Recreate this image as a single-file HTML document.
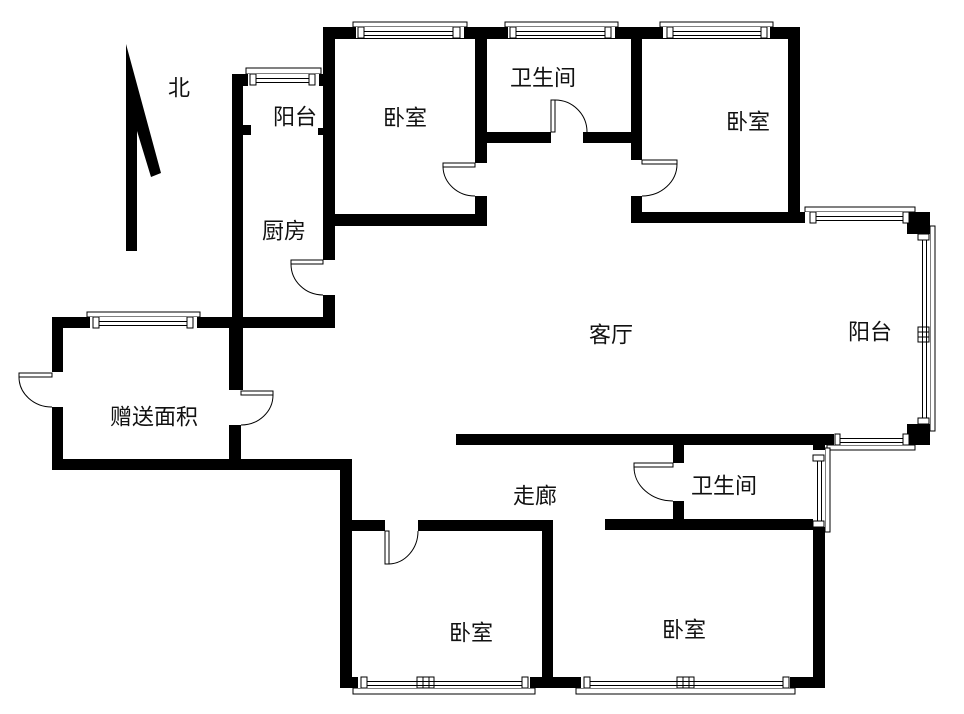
<!DOCTYPE html>
<html><head><meta charset="utf-8"><style>
html,body{margin:0;padding:0;background:#fff;}
svg{display:block;}
text{font-family:"Liberation Sans","Noto Sans CJK SC",sans-serif;font-size:22px;fill:#111;text-anchor:middle;dominant-baseline:central;}
.w{fill:#000;}
.g{fill:#fff;stroke:#000;stroke-width:1;}
.l{stroke:#000;stroke-width:1;fill:none;}
</style></head><body>
<svg width="964" height="714" viewBox="0 0 964 714" xmlns="http://www.w3.org/2000/svg">
<polygon points="126,44 161,173 151,177 137,131 137,251 126,251" fill="#000"/>
<text x="179" y="88">北</text>

<g class="w">
<rect x="323" y="27" width="477" height="12"/>
<rect x="323" y="27" width="12" height="233"/>
<rect x="323" y="295" width="12" height="33"/>
<rect x="475" y="27" width="12" height="136"/>
<rect x="475" y="196" width="12" height="30"/>
<rect x="323" y="214" width="164" height="12"/>
<rect x="487" y="132" width="64" height="11"/>
<rect x="583" y="132" width="48" height="11"/>
<rect x="631" y="27" width="11" height="133"/>
<rect x="631" y="196" width="11" height="27"/>
<rect x="788" y="27" width="12" height="196"/>
<rect x="631" y="212" width="174" height="11"/>
<rect x="907" y="212" width="23" height="22"/>
<rect x="918" y="212" width="12" height="233"/>
<rect x="907" y="424" width="23" height="21"/>
<rect x="232" y="74" width="91" height="12"/>
<rect x="232" y="74" width="11" height="316"/>
<rect x="243" y="125" width="8" height="10"/>
<rect x="318" y="128" width="6" height="7"/>
<rect x="52" y="317" width="283" height="11"/>
<rect x="52" y="317" width="11" height="55"/>
<rect x="52" y="407" width="11" height="63"/>
<rect x="229" y="317" width="12" height="73"/>
<rect x="229" y="425" width="12" height="45"/>
<rect x="52" y="459" width="300" height="11"/>
<rect x="340" y="459" width="12" height="229"/>
<rect x="340" y="520" width="45" height="11"/>
<rect x="418" y="520" width="135" height="11"/>
<rect x="542" y="520" width="11" height="168"/>
<rect x="340" y="677" width="485" height="11"/>
<rect x="456" y="434" width="474" height="11"/>
<rect x="673" y="445" width="11" height="18"/>
<rect x="673" y="501" width="11" height="29"/>
<rect x="605" y="519" width="220" height="11"/>
<rect x="813" y="434" width="12" height="254"/>
</g>

<g>
<rect x="353" y="22" width="114" height="5" class="g"/>
<rect x="356" y="27" width="108" height="12" fill="#fff"/>
<rect x="358" y="27" width="6" height="11" class="g"/><rect x="453" y="27" width="7" height="11" class="g"/>
<line x1="364" y1="31.5" x2="453" y2="31.5" class="l"/><line x1="364" y1="35.5" x2="453" y2="35.5" class="l"/><line x1="356" y1="38.5" x2="464" y2="38.5" class="l"/>
<rect x="505" y="22" width="113" height="5" class="g"/>
<rect x="508" y="27" width="107" height="12" fill="#fff"/>
<rect x="510" y="27" width="6" height="11" class="g"/><rect x="605" y="27" width="6" height="11" class="g"/>
<line x1="516" y1="31.5" x2="605" y2="31.5" class="l"/><line x1="516" y1="35.5" x2="605" y2="35.5" class="l"/><line x1="508" y1="38.5" x2="615" y2="38.5" class="l"/>
<rect x="660" y="22" width="113" height="5" class="g"/>
<rect x="663" y="27" width="107" height="12" fill="#fff"/>
<rect x="667" y="27" width="6" height="11" class="g"/><rect x="761" y="27" width="6" height="11" class="g"/>
<line x1="673" y1="31.5" x2="761" y2="31.5" class="l"/><line x1="673" y1="35.5" x2="761" y2="35.5" class="l"/><line x1="663" y1="38.5" x2="770" y2="38.5" class="l"/>
<rect x="246" y="68" width="75" height="6" class="g"/>
<rect x="248" y="74" width="71" height="12" fill="#fff"/>
<rect x="250" y="74" width="6" height="11" class="g"/><rect x="309" y="74" width="6" height="11" class="g"/>
<line x1="256" y1="78.5" x2="309" y2="78.5" class="l"/><line x1="256" y1="82.5" x2="309" y2="82.5" class="l"/>
<rect x="87" y="312" width="113" height="5" class="g"/>
<rect x="90" y="317" width="107" height="11" fill="#fff"/>
<rect x="93" y="317" width="6" height="11" class="g"/><rect x="187" y="317" width="6" height="11" class="g"/>
<line x1="99" y1="321.5" x2="187" y2="321.5" class="l"/><line x1="99" y1="325.5" x2="187" y2="325.5" class="l"/>
<rect x="805" y="207" width="110" height="5" class="g"/>
<rect x="805" y="212" width="102" height="11" fill="#fff"/>
<rect x="810" y="212" width="6" height="11" class="g"/><rect x="903" y="212" width="6" height="11" class="g"/>
<line x1="816" y1="216.5" x2="903" y2="216.5" class="l"/><line x1="816" y1="220.5" x2="903" y2="220.5" class="l"/>
<rect x="827" y="445" width="88" height="5" class="g"/>
<rect x="834" y="434" width="73" height="11" fill="#fff"/>
<rect x="835" y="434" width="5" height="11" class="g"/><rect x="903" y="434" width="6" height="11" class="g"/>
<line x1="840" y1="438.5" x2="903" y2="438.5" class="l"/><line x1="840" y1="442.5" x2="903" y2="442.5" class="l"/>
<rect x="353" y="688" width="182" height="6" class="g"/>
<rect x="358" y="677" width="172" height="11" fill="#fff"/>
<rect x="361" y="677" width="6" height="11" class="g"/><rect x="522" y="677" width="6" height="11" class="g"/>
<rect x="417" y="677" width="6" height="11" class="g"/><rect x="423" y="677" width="6" height="11" class="g"/><rect x="429" y="677" width="5" height="11" class="g"/>
<line x1="367" y1="681.5" x2="522" y2="681.5" class="l"/><line x1="367" y1="685.5" x2="522" y2="685.5" class="l"/>
<rect x="576" y="688" width="219" height="6" class="g"/>
<rect x="581" y="677" width="209" height="11" fill="#fff"/>
<rect x="584" y="677" width="6" height="11" class="g"/><rect x="783" y="677" width="6" height="11" class="g"/>
<rect x="677" y="677" width="6" height="11" class="g"/><rect x="683" y="677" width="6" height="11" class="g"/><rect x="689" y="677" width="5" height="11" class="g"/>
<line x1="590" y1="681.5" x2="783" y2="681.5" class="l"/><line x1="590" y1="685.5" x2="783" y2="685.5" class="l"/>
</g>
<g>
<rect x="930" y="226" width="5" height="205" class="g"/>
<rect x="918" y="234" width="12" height="190" fill="#fff"/>
<rect x="918" y="234" width="11" height="6" class="g"/><rect x="918" y="418" width="11" height="6" class="g"/>
<rect x="918" y="327" width="11" height="5" class="g"/><rect x="918" y="332" width="11" height="5" class="g"/><rect x="918" y="337" width="11" height="5" class="g"/>
<line x1="922.5" y1="240" x2="922.5" y2="418" class="l"/><line x1="926.5" y1="240" x2="926.5" y2="418" class="l"/>

<rect x="825" y="448" width="5" height="84" class="g"/>
<rect x="813" y="450" width="12" height="77" fill="#fff"/>
<rect x="813" y="455" width="11" height="6" class="g"/><rect x="813" y="521" width="11" height="6" class="g"/>
<line x1="817.5" y1="461" x2="817.5" y2="521" class="l"/><line x1="821.5" y1="461" x2="821.5" y2="521" class="l"/>
</g>

<g>
<rect x="551" y="100" width="4" height="32" class="g"/>
<path d="M555,100 A32,32 0 0 1 587,132" class="l"/>
<rect x="443" y="163" width="32" height="4" class="g"/>
<path d="M443,167 A32,30 0 0 0 475,196" class="l"/>
<rect x="642" y="160" width="35" height="4" class="g"/>
<path d="M677,164 A35,32 0 0 1 642,196" class="l"/>
<rect x="291" y="260" width="32" height="4" class="g"/>
<path d="M291,264 A32,31 0 0 0 323,295" class="l"/>
<rect x="19" y="373" width="33" height="4" class="g"/>
<path d="M19,377 A33,30 0 0 0 52,407" class="l"/>
<rect x="241" y="391" width="32" height="4" class="g"/>
<path d="M273,395 A32,30 0 0 1 241,425" class="l"/>
<rect x="385" y="531" width="4" height="33" class="g"/>
<path d="M389,564 A30,33 0 0 0 418,531" class="l"/>
<rect x="634" y="463" width="39" height="4" class="g"/>
<path d="M634,467 A39,34 0 0 0 673,501" class="l"/>
</g>

<text x="295" y="117">阳台</text>
<text x="405" y="118">卧室</text>
<text x="543" y="78">卫生间</text>
<text x="748" y="122">卧室</text>
<text x="284" y="231">厨房</text>
<text x="611" y="335">客厅</text>
<text x="870" y="332">阳台</text>
<text x="154" y="417">赠送面积</text>
<text x="535" y="496">走廊</text>
<text x="724" y="486">卫生间</text>
<text x="471" y="633">卧室</text>
<text x="684" y="630">卧室</text>
</svg>
</body></html>
